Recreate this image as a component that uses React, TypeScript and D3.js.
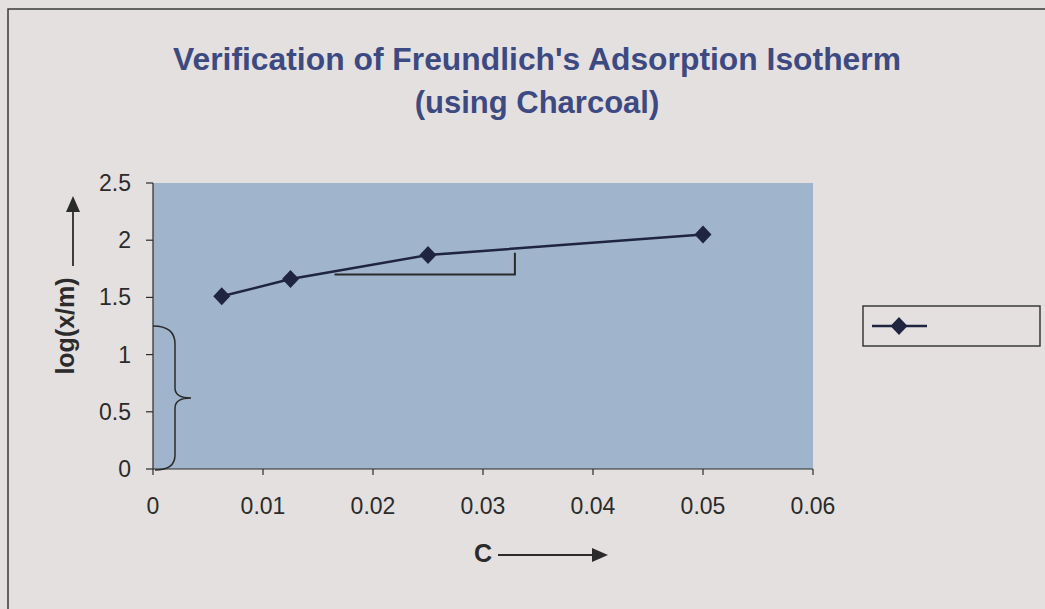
import React from 'react';
import * as d3 from 'd3';

const concentration = [0.00625, 0.0125, 0.025, 0.05];
const logXm = [1.51, 1.66, 1.87, 2.05];
const xTicks = [0, 0.01, 0.02, 0.03, 0.04, 0.05, 0.06];
const yTicks = [0, 0.5, 1, 1.5, 2, 2.5];
// slope triangle drawn on the chart (data units)
const slopeX = [0.0165, 0.0329];
const slopeY = [1.7, 1.89];
// brace on the y axis (data units)
const braceTop = 1.25;
const braceMid = 0.62;

const W = 1045;
const H = 609;
const plot = { left: 153, right: 813, top: 183, bottom: 469 };

const x = d3.scaleLinear().domain([0, 0.06]).range([plot.left, plot.right]);
const y = d3.scaleLinear().domain([0, 2.5]).range([plot.bottom, plot.top]);

// square diamond marker
const diamond = 'M0,-9 L8.5,0 L0,9 L-8.5,0 Z';

export default function App() {
  const pts = concentration.map((c, i) => [c, logXm[i]] as [number, number]);
  const line = d3.line<[number, number]>().x(d => x(d[0])).y(d => y(d[1]));
  const bx = plot.left + 22;
  const bt = y(braceTop);
  const bm = y(braceMid);
  const bb = y(0);
  const brace = `M${plot.left},${bt} Q${bx},${bt} ${bx},${bt + 18} L${bx},${bm - 10} Q${bx},${bm} ${bx + 16},${bm} Q${bx},${bm} ${bx},${bm + 10} L${bx},${bb - 14} Q${bx},${bb + 1} ${plot.left + 2},${bb + 1}`;
  const font = 'Liberation Sans, Arial, sans-serif';
  const ink = '#2b2b2b';
  return (
    <svg width={W} height={H} style={{ position: 'absolute', left: 0, top: 0 }} fontFamily={font}>
      <rect x={0} y={0} width={W} height={H} fill="#e4e0e0" />
      <rect x={8} y={9} width={W + 10} height={H + 10} fill="none" stroke="#3a3a3a" strokeWidth={1.5} />
      <text x={537} y={70} textAnchor="middle" fontSize={31} fontWeight="bold" fill="#3d4a82" textLength={728} lengthAdjust="spacingAndGlyphs">
        Verification of Freundlich's Adsorption Isotherm
      </text>
      <text x={537} y={113} textAnchor="middle" fontSize={31} fontWeight="bold" fill="#3d4a82">
        (using Charcoal)
      </text>

      <rect x={plot.left} y={plot.top} width={plot.right - plot.left} height={plot.bottom - plot.top} fill="#a0b4cb" />

      {/* axes */}
      <line x1={plot.left} x2={plot.left} y1={plot.top} y2={plot.bottom} stroke={ink} strokeWidth={1.2} />
      <line x1={plot.left} x2={plot.right} y1={plot.bottom} y2={plot.bottom} stroke={ink} strokeWidth={1.2} />
      {yTicks.map(t => (
        <g key={'y' + t}>
          <line x1={plot.left - 7} x2={plot.left} y1={y(t)} y2={y(t)} stroke={ink} strokeWidth={1.2} />
          <text x={plot.left - 22} y={y(t) + 8} textAnchor="end" fontSize={23} fill={ink}>{t}</text>
        </g>
      ))}
      {xTicks.map(t => (
        <g key={'x' + t}>
          <line x1={x(t)} x2={x(t)} y1={plot.bottom} y2={plot.bottom + 6} stroke={ink} strokeWidth={1.2} />
          <text x={x(t)} y={plot.bottom + 45} textAnchor="middle" fontSize={23} fill={ink}>{t}</text>
        </g>
      ))}

      {/* axis titles with arrows */}
      <text transform="translate(74,326) rotate(-90)" textAnchor="middle" fontSize={25} fontWeight="bold" fill={ink}>log(x/m)</text>
      <line x1={73} x2={73} y1={266} y2={210} stroke={ink} strokeWidth={1.8} />
      <path d="M66,212 L80,212 L73,196 Z" fill={ink} />
      <text x={483} y={562} textAnchor="middle" fontSize={25} fontWeight="bold" fill={ink}>C</text>
      <line x1={498} x2={594} y1={555} y2={555} stroke={ink} strokeWidth={1.8} />
      <path d="M592,548 L592,562 L608,555 Z" fill={ink} />

      {/* annotations */}
      <path d={brace} fill="none" stroke={ink} strokeWidth={1.5} />
      <polyline
        points={`${x(slopeX[0])},${y(slopeY[0])} ${x(slopeX[1])},${y(slopeY[0])} ${x(slopeX[1])},${y(slopeY[1])}`}
        fill="none" stroke="#2a2a2a" strokeWidth={2} />

      {/* series */}
      <path d={line(pts) || ''} fill="none" stroke="#1f2440" strokeWidth={2.5} />
      {pts.map((p, i) => (
        <path key={i} d={diamond} transform={`translate(${x(p[0])},${y(p[1])})`} fill="#1f2440" />
      ))}

      {/* legend */}
      <rect x={863} y={306} width={177} height={40} fill="none" stroke="#3a3a3a" strokeWidth={1.5} />
      <line x1={872} x2={927} y1={326} y2={326} stroke="#1f2440" strokeWidth={2.5} />
      <path d={diamond} transform="translate(899,326)" fill="#1f2440" />
    </svg>
  );
}
